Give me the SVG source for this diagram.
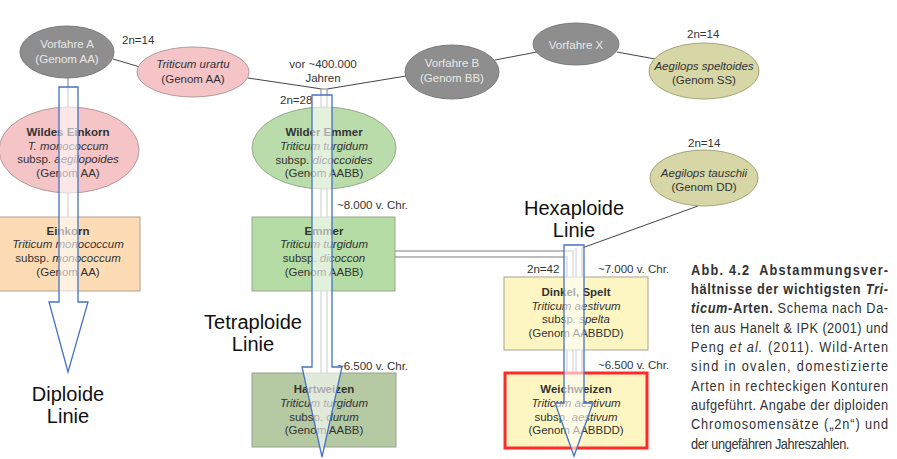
<svg xmlns="http://www.w3.org/2000/svg" width="897" height="459" viewBox="0 0 897 459">
<style>
text{font-family:"Liberation Sans",Arial,sans-serif;fill:#333;}
.n{font-size:11.5px;text-anchor:middle;}
.b{font-weight:bold;}
.i{font-style:italic;}
.w{fill:#e8e8e8;}
.lbl{font-size:11.5px;}
.big{font-size:20px;fill:#111;text-anchor:middle;}
.cap{font-family:"Liberation Sans",Arial,sans-serif;font-size:14.5px;fill:#333;}
.anc{fill:#8e8e8e;stroke:#7a7a7a;stroke-width:1;}
.pink{fill:#f5c4c6;stroke:#b49a9a;stroke-width:1;}
.olive{fill:#d6d6a6;stroke:#a4a478;stroke-width:1;}
.gell{fill:#b9dcaa;stroke:#94ad8c;stroke-width:1;}
.peach{fill:#fddcb5;stroke:#b0a090;stroke-width:1;}
.green{fill:#b5dca5;stroke:#98a890;stroke-width:1;}
.sage{fill:#b5c9a3;stroke:#98a090;stroke-width:1;}
.yel{fill:#fdf6c3;stroke:#a8a490;stroke-width:1;}
.red{fill:#fdf6c3;stroke:#ff2a2a;stroke-width:3;}
.line{stroke:#444;stroke-width:1;fill:none;}
.vl{stroke:#a8a8a8;stroke-width:1.5;fill:none;}
.dblo{stroke:#a8a8a8;stroke-width:7.5;fill:none;}
.dbli{stroke:#fff;stroke-width:4.5;fill:none;}
.arrow{fill:#fff;fill-opacity:0.6;stroke:#4472c4;stroke-width:1.3;}
</style>

<g id="connectors">
  <line class="line" x1="113" y1="59" x2="140" y2="67"/>
  <line class="line" x1="248" y1="78" x2="322" y2="89"/>
  <line class="line" x1="406" y1="76" x2="327" y2="89"/>
  <line class="line" x1="537" y1="52" x2="495" y2="60"/>
  <line class="line" x1="617" y1="52" x2="655" y2="59"/>
  <line class="line" x1="698" y1="206" x2="582" y2="248"/>
  <line class="vl" x1="68" y1="78" x2="68" y2="217"/>
  <polyline class="dblo" points="324,89 324,373"/>
  <polyline class="dbli" points="324,89 324,373"/>
  <line class="vl" x1="320" y1="89" x2="328" y2="89"/>
  <polyline class="dblo" points="395,254 570,254 570,372"/>
  <polyline class="dbli" points="395,254 570,254 570,372"/>
  <polyline class="dblo" points="579,248 579,372"/>
  <polyline class="dbli" points="579,248 579,372"/>
</g>

<g id="vorfahre-a">
  <ellipse class="anc" cx="67" cy="52" rx="47" ry="26"/>
  <text class="n w" x="67" y="48">Vorfahre A</text>
  <text class="n w" x="67" y="63">(Genom AA)</text>
</g>
<g id="triticum-urartu">
  <ellipse class="pink" cx="193" cy="72" rx="56" ry="25"/>
  <text class="n i" x="193" y="68">Triticum urartu</text>
  <text class="n" x="193" y="83">(Genom AA)</text>
</g>
<g id="vorfahre-b">
  <ellipse class="anc" cx="452" cy="72" rx="47" ry="27"/>
  <text class="n w" x="452" y="67">Vorfahre B</text>
  <text class="n w" x="452" y="82">(Genom BB)</text>
</g>
<g id="vorfahre-x">
  <ellipse class="anc" cx="576" cy="44" rx="43" ry="21"/>
  <text class="n w" x="576" y="49">Vorfahre X</text>
</g>
<g id="aegilops-speltoides">
  <ellipse class="olive" cx="704" cy="71" rx="55" ry="28"/>
  <text class="n i" x="704" y="70">Aegilops speltoides</text>
  <text class="n" x="704" y="84">(Genom SS)</text>
</g>
<g id="aegilops-tauschii">
  <ellipse class="olive" cx="704" cy="178" rx="54" ry="28"/>
  <text class="n i" x="704" y="177">Aegilops tauschii</text>
  <text class="n" x="704" y="191">(Genom DD)</text>
</g>
<g id="wildes-einkorn">
  <ellipse class="pink" cx="69" cy="150" rx="70" ry="43"/>
  <text class="n b" x="68" y="136">Wildes Einkorn</text>
  <text class="n i" x="68" y="150">T. monococcum</text>
  <text class="n" x="68" y="163">subsp. <tspan class="i">aegilopoides</tspan></text>
  <text class="n" x="68" y="177">(Genom AA)</text>
</g>
<g id="einkorn">
  <rect class="peach" x="-1" y="217" width="141" height="74"/>
  <text class="n b" x="68" y="235">Einkorn</text>
  <text class="n i" x="68" y="248">Triticum monococcum</text>
  <text class="n" x="68" y="262">subsp. <tspan class="i">monococcum</tspan></text>
  <text class="n" x="68" y="276">(Genom AA)</text>
</g>
<g id="wilder-emmer">
  <ellipse class="gell" cx="324" cy="148" rx="72" ry="41"/>
  <text class="n b" x="324" y="136">Wilder Emmer</text>
  <text class="n i" x="324" y="150">Triticum turgidum</text>
  <text class="n" x="324" y="164">subsp. <tspan class="i">dicoccoides</tspan></text>
  <text class="n" x="324" y="177">(Genom AABB)</text>
</g>
<g id="emmer">
  <rect class="green" x="252" y="217" width="143" height="74"/>
  <text class="n b" x="324" y="235">Emmer</text>
  <text class="n i" x="324" y="248">Triticum turgidum</text>
  <text class="n" x="324" y="262">subsp. <tspan class="i">dicoccon</tspan></text>
  <text class="n" x="324" y="276">(Genom AABB)</text>
</g>
<g id="hartweizen">
  <rect class="sage" x="252" y="373" width="144" height="74"/>
  <text class="n b" x="324" y="393">Hartweizen</text>
  <text class="n i" x="324" y="407">Triticum turgidum</text>
  <text class="n" x="324" y="421">subsp. <tspan class="i">durum</tspan></text>
  <text class="n" x="324" y="434">(Genom AABB)</text>
</g>
<g id="dinkel">
  <rect class="yel" x="504" y="277" width="144" height="73"/>
  <text class="n b" x="576" y="296">Dinkel, Spelt</text>
  <text class="n i" x="576" y="310">Triticum aestivum</text>
  <text class="n" x="576" y="323">subsp. <tspan class="i">spelta</tspan></text>
  <text class="n" x="576" y="337">(Genom AABBDD)</text>
</g>
<g id="weichweizen">
  <rect class="red" x="505" y="373" width="142" height="75"/>
  <text class="n b" x="576" y="393">Weichweizen</text>
  <text class="n i" x="576" y="407">Triticum aestivum</text>
  <text class="n" x="576" y="421">subsp. <tspan class="i">aestivum</tspan></text>
  <text class="n" x="576" y="434">(Genom AABBDD)</text>
</g>

<g id="labels">
  <text class="lbl" x="122" y="44">2n=14</text>
  <text class="n" x="323" y="68">vor ~400.000</text>
  <text class="n" x="323" y="82">Jahren</text>
  <text class="lbl" x="280" y="104">2n=28</text>
  <text class="lbl" x="687" y="38">2n=14</text>
  <text class="lbl" x="688" y="147">2n=14</text>
  <text class="lbl" x="337" y="209">~8.000 v. Chr.</text>
  <text class="lbl" x="527" y="273">2n=42</text>
  <text class="lbl" x="598" y="273">~7.000 v. Chr.</text>
  <text class="lbl" x="337" y="370">~6.500 v. Chr.</text>
  <text class="lbl" x="598" y="369">~6.500 v. Chr.</text>
</g>

<g id="lines-arrows">
  <polygon class="arrow" points="59,87 78,87 78,302 88,302 68,372 49,302 59,302"/>
  <polygon class="arrow" points="312,95 332,95 332,367 342,367 322,457 302,367 312,367"/>
  <polygon class="arrow" points="564,245 584,245 584,403 593,403 574,456 555,403 564,403"/>
  <text class="big" x="68" y="401">Diploide</text>
  <text class="big" x="68" y="423">Linie</text>
  <text class="big" x="253" y="329">Tetraploide</text>
  <text class="big" x="253" y="351">Linie</text>
  <text class="big" x="574" y="215">Hexaploide</text>
  <text class="big" x="574" y="237">Linie</text>
</g>

<g id="caption" transform="translate(691 0) scale(0.88 1)">
  <text class="cap b" x="0" y="275" textLength="224" lengthAdjust="spacing">Abb. 4.2<tspan dx="10">Abstammungsver-</tspan></text>
  <text class="cap b" x="0" y="294" textLength="224" lengthAdjust="spacing">hältnisse der wichtigsten <tspan class="i">Tri-</tspan></text>
  <text class="cap" x="0" y="313.5" textLength="224" lengthAdjust="spacing"><tspan class="b i">ticum</tspan><tspan class="b">-Arten.</tspan> Schema nach Da-</text>
  <text class="cap" x="0" y="333" textLength="224" lengthAdjust="spacing">ten aus Hanelt &amp; IPK (2001) und</text>
  <text class="cap" x="0" y="352" textLength="224" lengthAdjust="spacing">Peng <tspan class="i">et al.</tspan> (2011). Wild-Arten</text>
  <text class="cap" x="0" y="371.5" textLength="224" lengthAdjust="spacing">sind in ovalen, domestizierte</text>
  <text class="cap" x="0" y="391" textLength="224" lengthAdjust="spacing">Arten in rechteckigen Konturen</text>
  <text class="cap" x="0" y="410" textLength="224" lengthAdjust="spacing">aufgeführt. Angabe der diploiden</text>
  <text class="cap" x="0" y="429.5" textLength="224" lengthAdjust="spacing">Chromosomensätze („2n“) und</text>
  <text class="cap" x="0" y="449" textLength="180" lengthAdjust="spacing">der ungefähren Jahreszahlen.</text>
</g>
</svg>
